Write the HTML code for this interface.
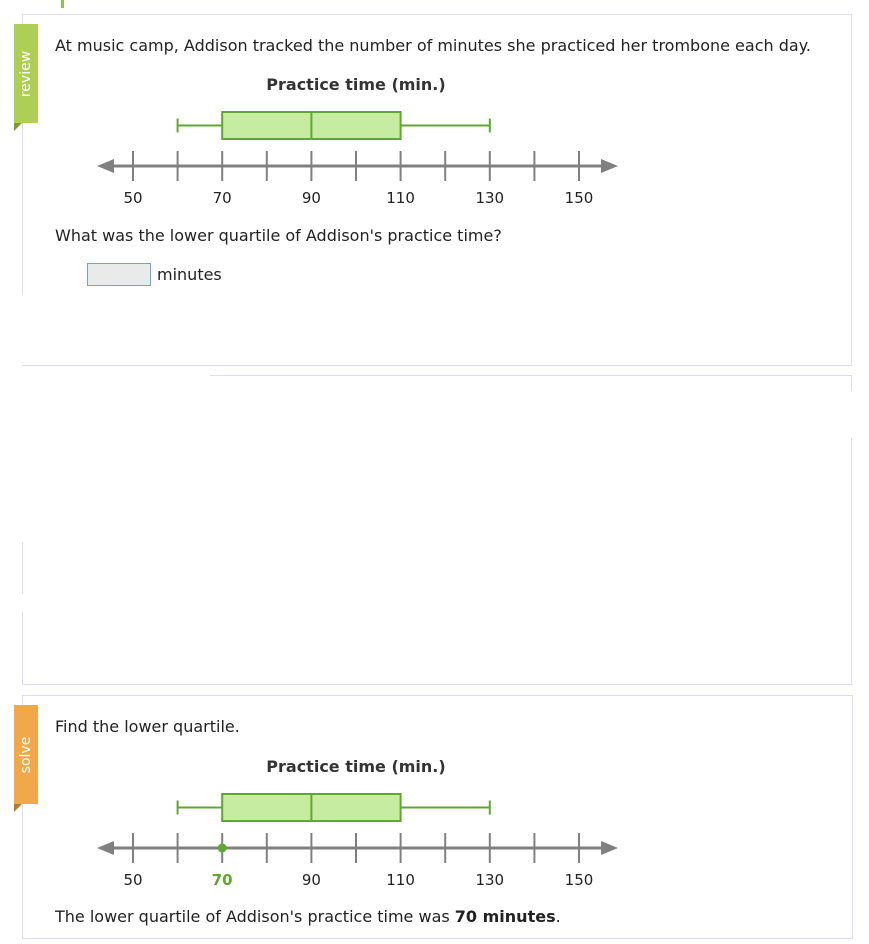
<!DOCTYPE html>
<html><head><meta charset="utf-8"><style>
body{margin:0;width:869px;height:944px;position:relative;background:#fff;font-family:"Liberation Sans",sans-serif;color:#222;overflow:hidden}
.abs{position:absolute}
.t{position:absolute;font-size:16px;font-family:"DejaVu Sans","Liberation Sans",sans-serif;white-space:nowrap}
.tab{position:absolute;left:14px;width:24px;color:#fff;font-size:14px;font-family:"DejaVu Sans",sans-serif}
.tab span{position:absolute;left:50%;top:50%;transform:translate(-50%,-50%) rotate(-90deg)}
</style></head><body>
<div class="abs" style="left:61px;top:0;width:3px;height:8px;background:#8bc34a"></div>
<div class="abs" style="left:22px;top:14px;width:829px;height:350px;border:1px solid #dcdcf5;border-left:none"></div>
<div class="abs" style="left:22px;top:14px;width:1px;height:281px;background:#dcdcf5"></div>
<div class="abs" style="left:210px;top:375px;width:641px;height:1px;background:#dcdcf5"></div>
<div class="abs" style="left:851px;top:375px;width:1px;height:16px;background:#dcdcf5"></div>
<div class="abs" style="left:22px;top:438px;width:829px;height:246px;border-right:1px solid #dcdcf5;border-bottom:1px solid #dcdcf5"></div>
<div class="abs" style="left:22px;top:542px;width:1px;height:52px;background:#dcdcf5"></div>
<div class="abs" style="left:22px;top:612px;width:1px;height:73px;background:#dcdcf5"></div>
<div class="abs" style="left:22px;top:695px;width:829px;height:242px;border:1px solid #dcdcf5"></div>
<div class="tab" style="top:24px;height:99px;background:#aecf55"><span>review</span></div>
<div class="abs" style="left:14px;top:123px;border-top:8px solid #7f9a32;border-left:8px solid transparent;transform:scaleX(-1)"></div>
<div class="tab" style="top:705px;height:99px;background:#f0a84a"><span>solve</span></div>
<div class="abs" style="left:14px;top:804px;border-top:8px solid #b87a26;border-left:8px solid transparent;transform:scaleX(-1)"></div>
<div class="t" style="left:55px;top:36px">At music camp, Addison tracked the number of minutes she practiced her trombone each day.</div>
<div class="t" style="left:55px;top:226px">What was the lower quartile of Addison's practice time?</div>
<div class="abs" style="left:87px;top:263px;width:62px;height:21px;background:#e9ebea;border:1px solid #6aa4d8"></div>
<div class="t" style="left:157px;top:265px">minutes</div>
<div class="t" style="left:55px;top:717px">Find the lower quartile.</div>
<div class="t" style="left:55px;top:907px">The lower quartile of Addison's practice time was <b>70 minutes</b>.</div>
<svg class="abs" style="left:0;top:0" width="869" height="944" id="svg"></svg>
<script>
const ticks=[50,60,70,80,90,100,110,120,130,140,150];
const tickLabels=[50,70,90,110,130,150];
const minVal=[60];const q1Val=[70];const medianVal=[90];const q3Val=[110];const maxVal=[130];
const highlight=[70];
const NS="http://www.w3.org/2000/svg";
const svg=document.getElementById('svg');
const x=v=>133+(v-50)*4.46;
function mk(tag,a,parent){const e=document.createElementNS(NS,tag);for(const k in a)e.setAttribute(k,a[k]);(parent||svg).appendChild(e);return e;}
function chart(dy,solved){
 const g=mk('g',{});
 
 
 const title=mk('text',{x:356,y:dy+90,'text-anchor':'middle','font-size':'16','font-weight':'bold','font-family':'DejaVu Sans, Liberation Sans, sans-serif',fill:'#333'},g);
 title.textContent='Practice time (min.)';
 
 
 const ay=dy+166;
 const axis=mk('line',{x1:105,x2:607,y1:ay,y2:ay,stroke:'#808080','stroke-width':3},g);
 
 
 mk('polygon',{points:`97,${ay} 114,${ay-7} 114,${ay+7}`,fill:'#808080'},g);
 mk('polygon',{points:`618,${ay} 601,${ay-7} 601,${ay+7}`,fill:'#808080'},g);
 ticks.forEach(v=>{const t=mk('line',{x1:x(v),x2:x(v),y1:ay-15,y2:ay+15,stroke:'#808080','stroke-width':2},g);
  
  });
 tickLabels.forEach(v=>{const hl=solved&&highlight.includes(v);
  const l=mk('text',{x:x(v),y:ay+37,'text-anchor':'middle','font-size':'15','font-family':'DejaVu Sans, Liberation Sans, sans-serif',fill:hl?'#5fa82f':'#222','font-weight':hl?'bold':'normal'},g);
  l.textContent=v;
  
  });
 const by=dy+112,bh=27,my=by+bh/2,c='#5fa82f';
 mk('line',{x1:x(minVal[0]),x2:x(q1Val[0]),y1:my,y2:my,stroke:c,'stroke-width':2},g);
 mk('line',{x1:x(q3Val[0]),x2:x(maxVal[0]),y1:my,y2:my,stroke:c,'stroke-width':2},g);
 mk('line',{x1:x(minVal[0]),x2:x(minVal[0]),y1:my-7,y2:my+7,stroke:c,'stroke-width':2},g);
 mk('line',{x1:x(maxVal[0]),x2:x(maxVal[0]),y1:my-7,y2:my+7,stroke:c,'stroke-width':2},g);
 const box=mk('rect',{x:x(q1Val[0]),y:by,width:x(q3Val[0])-x(q1Val[0]),height:bh,fill:'#c6eca2',stroke:c,'stroke-width':2},g);
 
 
 const med=mk('line',{x1:x(medianVal[0]),x2:x(medianVal[0]),y1:by,y2:by+bh,stroke:c,'stroke-width':2},g);
 
 
 if(solved){const d=mk('circle',{cx:x(highlight[0]),cy:ay,r:4.5,fill:c},g);
  
  }
}
chart(0,false);
chart(682,true);
</script>
</body></html>
